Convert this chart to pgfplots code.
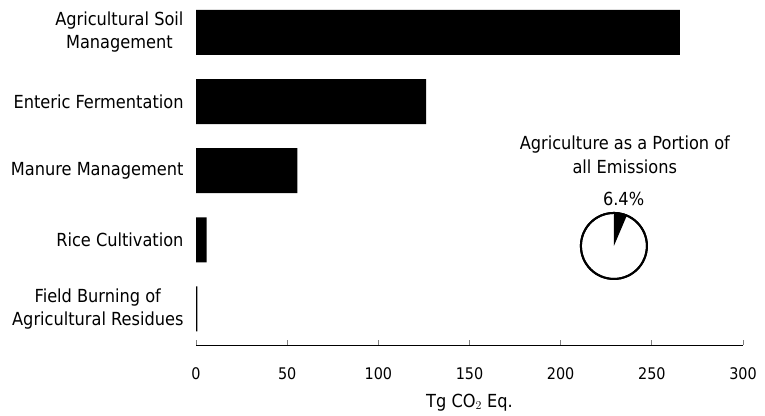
\documentclass[border=0pt]{standalone}
\usepackage{fontspec}
\setmainfont{DejaVu Sans Condensed}
\usepackage{pgfplots}
\pgfplotsset{compat=1.18}
\newcommand{\agshare}{6.4}
\begin{document}
\begin{tikzpicture}
\begin{axis}[
  at={(196bp,71bp)}, anchor=south west,
  scale only axis, width=547bp, height=345bp,
  xmin=0, xmax=300, ymin=-0.521, ymax=4.47,
  xbar, bar width=0.651,
  axis x line*=bottom, axis y line*=left,
  y axis line style={draw=none},
  x axis line style={line width=0.8bp},
  xtick={0,50,...,300},
  ytick={0,1,2,3,4},
  yticklabels={{Field Burning of\\Agricultural Residues},{Rice Cultivation},{Manure Management},{Enteric Fermentation},{Agricultural Soil\\Management}},
  ytick style={draw=none},
  xtick style={line width=0.8bp},
  tick align=inside, major tick length=5bp,
  /pgf/number format/assume math mode=true,
  xticklabel style={font=\fontsize{16bp}{19bp}\selectfont, anchor=base, yshift=-35bp},
  yticklabel style={font=\fontsize{18bp}{23bp}\selectfont, align=center, anchor=east, xshift=-9bp},
  xlabel={Tg CO$_2$ Eq.},
  xlabel style={font=\fontsize{18bp}{22bp}\selectfont, at={(axis description cs:0.5,0)}, anchor=base, yshift=-62bp},
  clip=false,
]
\addplot[fill=black, draw=none] coordinates {(0.8,0) (5.8,1) (55.6,2) (126.2,3) (265.4,4)};
% pie inset
\draw[line width=2bp, fill=white] (axis cs:229.2,0.912) circle[radius=33bp];
\fill[black] (axis cs:229.2,0.912) -- ++(90:33bp) arc[start angle=90, end angle={90-\agshare*3.6}, radius=33bp] -- cycle;
\draw[line width=2bp] (axis cs:229.2,0.912) circle[radius=33bp];
\node[font=\fontsize{18bp}{22bp}\selectfont] at (axis cs:234.5,1.595) {6.4\%};
\node[font=\fontsize{18bp}{24bp}\selectfont, align=center] at (axis cs:235.2,2.23) {Agriculture as a Portion of\\all Emissions};
\end{axis}
\pgfresetboundingbox
\path[use as bounding box] (0,0) rectangle (765bp,416bp);
\end{tikzpicture}
\end{document}
